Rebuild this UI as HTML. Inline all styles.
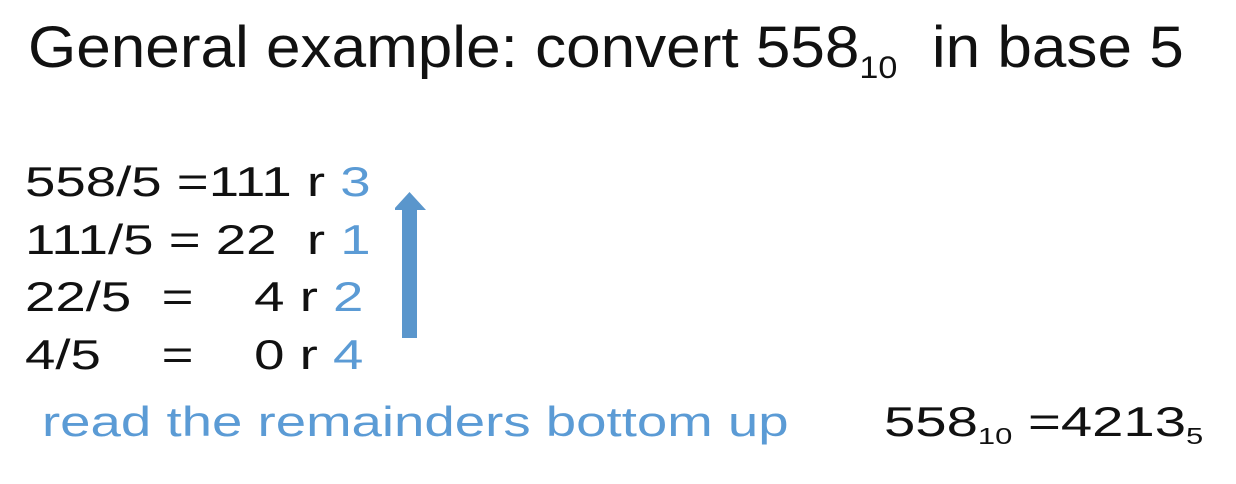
<!DOCTYPE html>
<html><head><meta charset="utf-8"><style>
body{margin:0;width:1236px;height:484px;background:#fff;overflow:hidden;font-family:"Liberation Sans",sans-serif;color:#111}
.t{position:absolute;white-space:pre;line-height:1;transform-origin:0 0;transform:scaleX(1.3)}
.b{color:#5b9bd5}
sub{font-size:0.55em;vertical-align:-0.35em}
</style></head><body>
<div class="t" style="left:28px;top:19px;font-size:58px;transform:scaleX(1.07)">General example: convert 558<sub>10</sub>  in base 5</div>
<div class="t" style="left:25px;top:161px;font-size:42px">558/5 =111 r <span class="b">3</span></div>
<div class="t" style="left:25px;top:219px;font-size:42px">111/5 = 22  r <span class="b">1</span></div>
<div class="t" style="left:25px;top:276px;font-size:42px">22/5  =    4 r <span class="b">2</span></div>
<div class="t" style="left:25px;top:334px;font-size:42px">4/5    =    0 r <span class="b">4</span></div>
<svg style="position:absolute;left:395px;top:190px" width="36" height="152"><rect x="7" y="16" width="15" height="132" fill="#5a96cc"/><polygon points="14.5,2 31,20 -2,20" fill="#5a96cc"/></svg>
<div class="t b" style="left:42px;top:401px;font-size:42px">read the remainders bottom up</div>
<div class="t" style="left:884px;top:401px;font-size:42px;transform:scaleX(1.34)">558<sub>10</sub> =4213<sub>5</sub></div>
</body></html>
